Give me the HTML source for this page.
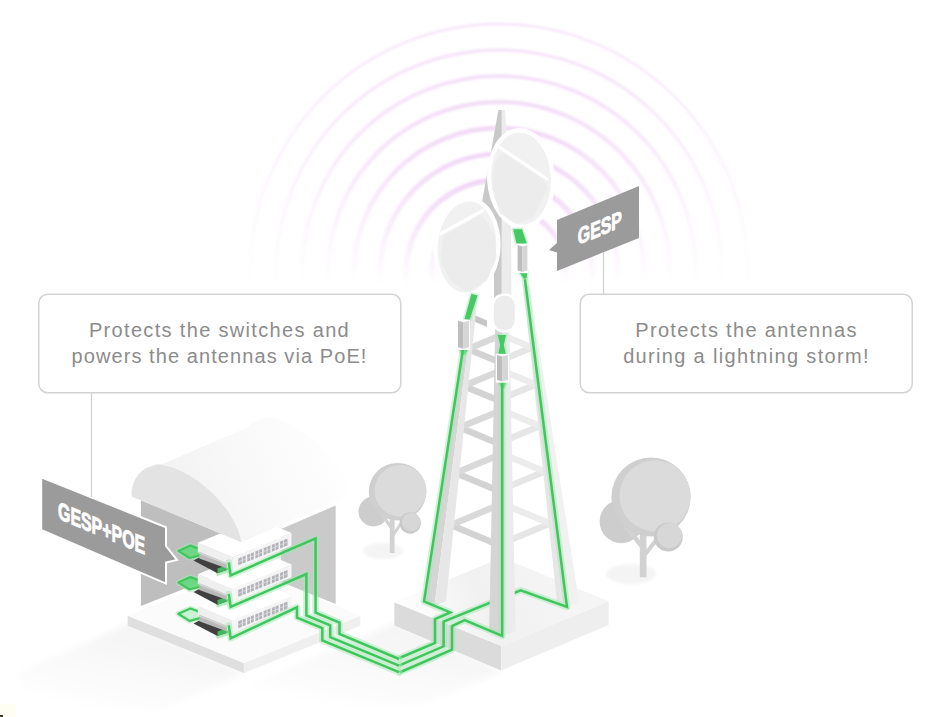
<!DOCTYPE html>
<html><head><meta charset="utf-8"><title>GESP</title>
<style>
html,body{margin:0;padding:0;background:#fff}
#wrap{position:relative;width:944px;height:717px;overflow:hidden;background:#fff}
svg{position:absolute;left:0;top:0}
.box{position:absolute;box-sizing:border-box;border:1px solid transparent;border-radius:9px;background:transparent;
 font-family:"Liberation Sans",sans-serif;font-size:20px;line-height:26px;letter-spacing:1.05px;color:#8c8c8c;text-align:center}
#b1{left:38px;top:294px;width:363px;height:99px;padding-top:22px}
#b2{left:580px;top:294px;width:333px;height:99px;padding-top:22px}
.box span{display:block;white-space:nowrap}
</style></head><body><div id="wrap">
<svg width="944" height="717" viewBox="0 0 944 717">
<defs><clipPath id="arcclip"><rect x="0" y="0" width="944" height="294"/></clipPath><filter id="ablur" x="-5%" y="-5%" width="110%" height="110%"><feGaussianBlur stdDeviation="0.9"/></filter><linearGradient id="ag0" gradientUnits="userSpaceOnUse" x1="0" y1="24.0" x2="0" y2="285.0"><stop offset="0" stop-color="#eac4f1" stop-opacity="0.40"/><stop offset="0.5" stop-color="#eac4f1" stop-opacity="0.20"/><stop offset="0.8" stop-color="#eac4f1" stop-opacity="0.08"/><stop offset="1" stop-color="#eac4f1" stop-opacity="0"/></linearGradient><linearGradient id="ag1" gradientUnits="userSpaceOnUse" x1="0" y1="50.0" x2="0" y2="285.0"><stop offset="0" stop-color="#eac4f1" stop-opacity="0.45"/><stop offset="0.5" stop-color="#eac4f1" stop-opacity="0.23"/><stop offset="0.8" stop-color="#eac4f1" stop-opacity="0.09"/><stop offset="1" stop-color="#eac4f1" stop-opacity="0"/></linearGradient><linearGradient id="ag2" gradientUnits="userSpaceOnUse" x1="0" y1="76.0" x2="0" y2="285.0"><stop offset="0" stop-color="#eac4f1" stop-opacity="0.50"/><stop offset="0.5" stop-color="#eac4f1" stop-opacity="0.25"/><stop offset="0.8" stop-color="#eac4f1" stop-opacity="0.10"/><stop offset="1" stop-color="#eac4f1" stop-opacity="0"/></linearGradient><linearGradient id="ag3" gradientUnits="userSpaceOnUse" x1="0" y1="102.0" x2="0" y2="285.0"><stop offset="0" stop-color="#eac4f1" stop-opacity="0.55"/><stop offset="0.5" stop-color="#eac4f1" stop-opacity="0.28"/><stop offset="0.8" stop-color="#eac4f1" stop-opacity="0.11"/><stop offset="1" stop-color="#eac4f1" stop-opacity="0"/></linearGradient><linearGradient id="ag4" gradientUnits="userSpaceOnUse" x1="0" y1="128.0" x2="0" y2="285.0"><stop offset="0" stop-color="#eac4f1" stop-opacity="0.60"/><stop offset="0.5" stop-color="#eac4f1" stop-opacity="0.30"/><stop offset="0.8" stop-color="#eac4f1" stop-opacity="0.12"/><stop offset="1" stop-color="#eac4f1" stop-opacity="0"/></linearGradient><linearGradient id="ag5" gradientUnits="userSpaceOnUse" x1="0" y1="154.0" x2="0" y2="285.0"><stop offset="0" stop-color="#eac4f1" stop-opacity="0.64"/><stop offset="0.5" stop-color="#eac4f1" stop-opacity="0.32"/><stop offset="0.8" stop-color="#eac4f1" stop-opacity="0.13"/><stop offset="1" stop-color="#eac4f1" stop-opacity="0"/></linearGradient><linearGradient id="ag6" gradientUnits="userSpaceOnUse" x1="0" y1="180.0" x2="0" y2="285.0"><stop offset="0" stop-color="#eac4f1" stop-opacity="0.68"/><stop offset="0.5" stop-color="#eac4f1" stop-opacity="0.34"/><stop offset="0.8" stop-color="#eac4f1" stop-opacity="0.14"/><stop offset="1" stop-color="#eac4f1" stop-opacity="0"/></linearGradient><linearGradient id="ag7" gradientUnits="userSpaceOnUse" x1="0" y1="206.0" x2="0" y2="285.0"><stop offset="0" stop-color="#eac4f1" stop-opacity="0.70"/><stop offset="0.5" stop-color="#eac4f1" stop-opacity="0.35"/><stop offset="0.8" stop-color="#eac4f1" stop-opacity="0.14"/><stop offset="1" stop-color="#eac4f1" stop-opacity="0"/></linearGradient><filter id="sblur" x="-10%" y="-10%" width="120%" height="120%"><feGaussianBlur stdDeviation="3"/></filter><linearGradient id="sh1" gradientUnits="objectBoundingBox" x1="0.8" y1="0" x2="0.25" y2="1"><stop offset="0" stop-color="#f3f3f3"/><stop offset="0.7" stop-color="#fbfbfb"/><stop offset="1" stop-color="#ffffff"/></linearGradient><filter id="tblur" x="-20%" y="-40%" width="140%" height="180%"><feGaussianBlur stdDeviation="1.8"/></filter><linearGradient id="roof" gradientUnits="userSpaceOnUse" x1="170" y1="520" x2="330" y2="450"><stop offset="0" stop-color="#f1f1f1"/><stop offset="0.45" stop-color="#f8f8f8"/><stop offset="1" stop-color="#fefefe"/></linearGradient><linearGradient id="bt" gradientUnits="userSpaceOnUse" x1="430" y1="640" x2="560" y2="575"><stop offset="0" stop-color="#fcfcfc"/><stop offset="0.45" stop-color="#f1f1f1"/><stop offset="1" stop-color="#f5f5f5"/></linearGradient></defs>
<g clip-path="url(#arcclip)" filter="url(#ablur)"><circle cx="499.0" cy="273.0" r="249.0" fill="none" stroke="url(#ag0)" stroke-width="2.8"/><circle cx="499.0" cy="273.0" r="223.0" fill="none" stroke="url(#ag1)" stroke-width="3.3"/><circle cx="499.0" cy="273.0" r="197.0" fill="none" stroke="url(#ag2)" stroke-width="3.9"/><circle cx="499.0" cy="273.0" r="171.0" fill="none" stroke="url(#ag3)" stroke-width="4.5"/><circle cx="499.0" cy="273.0" r="145.0" fill="none" stroke="url(#ag4)" stroke-width="4.9"/><circle cx="499.0" cy="273.0" r="119.0" fill="none" stroke="url(#ag5)" stroke-width="5.2"/><circle cx="499.0" cy="273.0" r="93.0" fill="none" stroke="url(#ag6)" stroke-width="5.5"/><circle cx="499.0" cy="273.0" r="67.0" fill="none" stroke="url(#ag7)" stroke-width="5.5"/></g>
<polygon points="394.4,624.0 501.2,669.0 501.2,672.0 420.0,706.0 250.0,706.0 250.0,684.0" fill="url(#sh1)" filter="url(#sblur)"/>
<polygon points="127.7,624.0 243.9,671.0 243.9,674.0 160.0,710.0 20.0,710.0 20.0,672.0" fill="url(#sh1)" filter="url(#sblur)"/>
<rect x="0" y="704" width="16" height="13" fill="#fefef3"/><rect x="0" y="715" width="3" height="2" fill="#3a3a20"/>
<ellipse cx="383.0" cy="551.0" rx="20.0" ry="8.0" fill="#f4f4f4" filter="url(#tblur)"/>
<circle cx="373.5" cy="511.5" r="15.0" fill="#cdcdcd"/>
<polygon points="389.8,516.0 394.6,516.0 394.6,553.0 389.8,553.0" fill="#d2d2d2" />
<polyline points="392.2,529.0 379.2,510.4" fill="none" stroke="#d2d2d2" stroke-width="3.360000000000008" />
<polyline points="392.2,536.4 402.3,521.5" fill="none" stroke="#d2d2d2" stroke-width="2.8800000000000066" />
<circle cx="397.6" cy="491.7" r="28.8" fill="#cfcfcf"/>
<circle cx="400.5" cy="490.8" r="25.9" fill="#dbdbdb"/>
<circle cx="410.2" cy="523.0" r="10.7" fill="#c9c9c9"/>
<circle cx="411.1" cy="521.9" r="9.2" fill="#d7d7d7"/>
<ellipse cx="631.0" cy="574.0" rx="25.0" ry="10.0" fill="#f4f4f4" filter="url(#tblur)"/>
<circle cx="621.3" cy="521.5" r="21.7" fill="#cdcdcd"/>
<polygon points="639.8,532.0 646.5,532.0 646.5,577.3 639.8,577.3" fill="#d2d2d2" />
<polyline points="643.1,547.9 625.1,525.2" fill="none" stroke="#d2d2d2" stroke-width="4.6900000000000315" />
<polyline points="643.1,556.9 657.2,538.8" fill="none" stroke="#d2d2d2" stroke-width="4.020000000000027" />
<circle cx="651.0" cy="497.0" r="39.6" fill="#cfcfcf"/>
<circle cx="655.0" cy="495.8" r="35.6" fill="#dbdbdb"/>
<circle cx="668.2" cy="537.1" r="14.5" fill="#c9c9c9"/>
<circle cx="669.4" cy="535.6" r="12.5" fill="#d7d7d7"/>
<polygon points="241.0,542.0 283.0,525.0 283.0,600.0 241.0,612.0" fill="#f7f7f7" />
<polygon points="281.0,529.0 335.7,505.4 335.7,604.0 281.0,582.0" fill="#cacaca" />
<polygon points="140.9,499.6 241.4,541.6 241.4,566.0 140.9,606.0" fill="#bebebe" />
<polygon points="127.7,615.8 243.9,663.0 243.9,673.0 127.7,625.8" fill="#dfdfdf" />
<polygon points="243.9,663.0 360.3,615.8 360.3,625.8 243.9,673.0" fill="#efefef" />
<polygon points="127.7,615.8 244.1,568.6 360.3,615.8 243.9,663.0" fill="#fbfbfb" />
<polygon points="178.3,613.8 190.5,608.5 201.0,612.4 201.0,617.9 189.5,620.9" fill="#a5e8b3" fill-opacity="0.5" stroke="#a5e8b3" stroke-width="5.5" stroke-opacity="0.5" stroke-linejoin="round"/>
<polygon points="178.3,613.8 190.5,608.5 201.0,612.4 201.0,617.9 189.5,620.9" fill="#c9f3d2" fill-opacity="0.85" stroke="#3fc65c" stroke-width="2.2" stroke-linejoin="round"/>
<polygon points="215.0,628.9 229.0,625.4 231.0,633.4 217.5,637.9" fill="#a5e8b3" opacity="0.8" stroke="#a5e8b3" stroke-width="2" stroke-linejoin="round"/>
<polygon points="193.5,623.5 199.3,620.5 226.6,628.9 228.0,632.5 217.5,636.1" fill="#404040" />
<polygon points="217.5,631.4 227.0,628.1 228.0,632.5 217.5,636.1" fill="#43c45f" opacity="0.9"/>
<polygon points="197.8,605.6 232.5,620.2 232.5,633.2 197.8,615.1" fill="#efefef" />
<polygon points="199.3,614.7 227.0,626.1 227.0,631.5 199.3,621.3" fill="#bababa" />
<polygon points="199.3,614.7 227.0,626.1 227.0,627.9 199.3,616.7" fill="#d2d2d2" />
<polygon points="232.5,620.2 291.5,595.9 291.5,608.9 232.5,633.2" fill="#f5f5f5" />
<polygon points="197.8,605.6 256.8,581.3 291.5,595.9 232.5,620.2" fill="#ffffff" />
<polygon points="238.2,621.3 287.5,601.5 287.5,608.4 238.2,628.2" fill="#b2b2b8" />
<polyline points="242.3,619.1 242.3,627.0" fill="none" stroke="#f5f5f5" stroke-width="0.8" />
<polyline points="246.4,617.5 246.4,625.4" fill="none" stroke="#f5f5f5" stroke-width="1.5" />
<polyline points="250.5,615.9 250.5,623.8" fill="none" stroke="#f5f5f5" stroke-width="0.8" />
<polyline points="254.6,614.2 254.6,622.1" fill="none" stroke="#f5f5f5" stroke-width="1.5" />
<polyline points="258.7,612.5 258.7,620.4" fill="none" stroke="#f5f5f5" stroke-width="0.8" />
<polyline points="262.9,610.9 262.9,618.8" fill="none" stroke="#f5f5f5" stroke-width="1.5" />
<polyline points="267.0,609.2 267.0,617.1" fill="none" stroke="#f5f5f5" stroke-width="0.8" />
<polyline points="271.1,607.6 271.1,615.5" fill="none" stroke="#f5f5f5" stroke-width="1.5" />
<polyline points="275.2,605.9 275.2,613.8" fill="none" stroke="#f5f5f5" stroke-width="0.8" />
<polyline points="279.3,604.3 279.3,612.2" fill="none" stroke="#f5f5f5" stroke-width="1.5" />
<polyline points="283.4,602.6 283.4,610.5" fill="none" stroke="#f5f5f5" stroke-width="0.8" />
<polyline points="238.2,624.8 287.5,605.0" fill="none" stroke="#e2e2e6" stroke-width="0.7" />
<polygon points="178.3,582.4 190.5,577.1 201.0,581.0 201.0,586.5 189.5,589.5" fill="#a5e8b3" fill-opacity="0.5" stroke="#a5e8b3" stroke-width="5.5" stroke-opacity="0.5" stroke-linejoin="round"/>
<polygon points="178.3,582.4 190.5,577.1 201.0,581.0 201.0,586.5 189.5,589.5" fill="#62d67c" fill-opacity="0.85" stroke="#3fc65c" stroke-width="2.2" stroke-linejoin="round"/>
<polygon points="215.0,597.5 229.0,594.0 231.0,602.0 217.5,606.5" fill="#a5e8b3" opacity="0.8" stroke="#a5e8b3" stroke-width="2" stroke-linejoin="round"/>
<polygon points="193.5,592.1 199.3,589.1 226.6,597.5 228.0,601.1 217.5,604.7" fill="#404040" />
<polygon points="217.5,600.0 227.0,596.7 228.0,601.1 217.5,604.7" fill="#43c45f" opacity="0.9"/>
<polygon points="197.8,574.2 232.5,588.8 232.5,601.8 197.8,583.7" fill="#efefef" />
<polygon points="199.3,583.2 227.0,594.7 227.0,600.1 199.3,589.9" fill="#bababa" />
<polygon points="199.3,583.2 227.0,594.7 227.0,596.5 199.3,585.2" fill="#d2d2d2" />
<polygon points="232.5,588.8 291.5,564.5 291.5,577.5 232.5,601.8" fill="#f5f5f5" />
<polygon points="197.8,574.2 256.8,549.9 291.5,564.5 232.5,588.8" fill="#ffffff" />
<polygon points="238.2,589.9 287.5,570.1 287.5,577.0 238.2,596.8" fill="#b2b2b8" />
<polyline points="242.3,587.7 242.3,595.6" fill="none" stroke="#f5f5f5" stroke-width="0.8" />
<polyline points="246.4,586.1 246.4,594.0" fill="none" stroke="#f5f5f5" stroke-width="1.5" />
<polyline points="250.5,584.4 250.5,592.3" fill="none" stroke="#f5f5f5" stroke-width="0.8" />
<polyline points="254.6,582.8 254.6,590.6" fill="none" stroke="#f5f5f5" stroke-width="1.5" />
<polyline points="258.7,581.1 258.7,589.0" fill="none" stroke="#f5f5f5" stroke-width="0.8" />
<polyline points="262.9,579.5 262.9,587.4" fill="none" stroke="#f5f5f5" stroke-width="1.5" />
<polyline points="267.0,577.8 267.0,585.7" fill="none" stroke="#f5f5f5" stroke-width="0.8" />
<polyline points="271.1,576.2 271.1,584.1" fill="none" stroke="#f5f5f5" stroke-width="1.5" />
<polyline points="275.2,574.5 275.2,582.4" fill="none" stroke="#f5f5f5" stroke-width="0.8" />
<polyline points="279.3,572.9 279.3,580.8" fill="none" stroke="#f5f5f5" stroke-width="1.5" />
<polyline points="283.4,571.2 283.4,579.1" fill="none" stroke="#f5f5f5" stroke-width="0.8" />
<polyline points="238.2,593.3 287.5,573.5" fill="none" stroke="#e2e2e6" stroke-width="0.7" />
<polygon points="178.3,550.9 190.5,545.6 201.0,549.5 201.0,555.0 189.5,558.0" fill="#a5e8b3" fill-opacity="0.5" stroke="#a5e8b3" stroke-width="5.5" stroke-opacity="0.5" stroke-linejoin="round"/>
<polygon points="178.3,550.9 190.5,545.6 201.0,549.5 201.0,555.0 189.5,558.0" fill="#62d67c" fill-opacity="0.85" stroke="#3fc65c" stroke-width="2.2" stroke-linejoin="round"/>
<polygon points="215.0,566.0 229.0,562.5 231.0,570.5 217.5,575.0" fill="#a5e8b3" opacity="0.8" stroke="#a5e8b3" stroke-width="2" stroke-linejoin="round"/>
<polygon points="193.5,560.6 199.3,557.6 226.6,566.0 228.0,569.6 217.5,573.2" fill="#404040" />
<polygon points="217.5,568.5 227.0,565.2 228.0,569.6 217.5,573.2" fill="#43c45f" opacity="0.9"/>
<polygon points="197.8,542.7 232.5,557.3 232.5,570.3 197.8,552.2" fill="#efefef" />
<polygon points="199.3,551.8 227.0,563.2 227.0,568.6 199.3,558.4" fill="#bababa" />
<polygon points="199.3,551.8 227.0,563.2 227.0,565.0 199.3,553.8" fill="#d2d2d2" />
<polygon points="232.5,557.3 291.5,533.0 291.5,546.0 232.5,570.3" fill="#f5f5f5" />
<polygon points="197.8,542.7 256.8,518.4 291.5,533.0 232.5,557.3" fill="#ffffff" />
<polygon points="238.2,558.4 287.5,538.6 287.5,545.5 238.2,565.3" fill="#b2b2b8" />
<polyline points="242.3,556.2 242.3,564.1" fill="none" stroke="#f5f5f5" stroke-width="0.8" />
<polyline points="246.4,554.6 246.4,562.5" fill="none" stroke="#f5f5f5" stroke-width="1.5" />
<polyline points="250.5,553.0 250.5,560.9" fill="none" stroke="#f5f5f5" stroke-width="0.8" />
<polyline points="254.6,551.3 254.6,559.2" fill="none" stroke="#f5f5f5" stroke-width="1.5" />
<polyline points="258.7,549.6 258.7,557.5" fill="none" stroke="#f5f5f5" stroke-width="0.8" />
<polyline points="262.9,548.0 262.9,555.9" fill="none" stroke="#f5f5f5" stroke-width="1.5" />
<polyline points="267.0,546.4 267.0,554.2" fill="none" stroke="#f5f5f5" stroke-width="0.8" />
<polyline points="271.1,544.7 271.1,552.6" fill="none" stroke="#f5f5f5" stroke-width="1.5" />
<polyline points="275.2,543.0 275.2,550.9" fill="none" stroke="#f5f5f5" stroke-width="0.8" />
<polyline points="279.3,541.4 279.3,549.3" fill="none" stroke="#f5f5f5" stroke-width="1.5" />
<polyline points="283.4,539.8 283.4,547.6" fill="none" stroke="#f5f5f5" stroke-width="0.8" />
<polyline points="238.2,561.9 287.5,542.1" fill="none" stroke="#e2e2e6" stroke-width="0.7" />
<g fill="url(#roof)"><path d="M131.7,496.4 C131.8,495.1 131.4,491.5 132.1,488.6 C132.8,485.7 133.7,481.9 135.6,478.8 C137.5,475.7 140.5,472.2 143.4,470.0 C146.3,467.8 150.3,466.6 153.2,465.7 C156.1,464.8 156.8,464.1 161.0,464.8 C165.2,465.5 172.4,467.3 178.6,470.0 C184.8,472.7 192.2,477.1 198.1,481.2 C203.9,485.3 209.1,489.9 213.7,494.4 C218.2,498.9 221.8,503.2 225.4,508.1 C229.0,513.0 232.8,519.0 235.2,523.7 C237.6,528.4 239.1,533.3 240.1,536.4 C241.1,539.5 241.2,541.3 241.4,542.3 Z"/><path d="M240.7,449.4 C240.8,448.1 240.4,444.5 241.1,441.6 C241.8,438.7 242.7,434.9 244.6,431.8 C246.5,428.7 249.5,425.2 252.4,423.0 C255.3,420.8 259.3,419.6 262.2,418.7 C265.1,417.8 265.8,417.1 270.0,417.8 C274.2,418.5 281.4,420.3 287.6,423.0 C293.8,425.7 301.2,430.1 307.1,434.2 C313.0,438.3 318.1,442.9 322.7,447.4 C327.2,451.9 330.8,456.2 334.4,461.1 C338.0,466.0 341.8,472.0 344.2,476.7 C346.6,481.4 348.1,486.3 349.1,489.4 C350.1,492.5 350.2,494.3 350.4,495.3 Z"/>
<polygon points="137.0,475.0 246.0,428.0 350.4,495.3 241.4,542.3 161.0,470.0"/></g>
<path d="M131.7,496.4 C131.8,495.1 131.4,491.5 132.1,488.6 C132.8,485.7 133.7,481.9 135.6,478.8 C137.5,475.7 140.5,472.2 143.4,470.0 C146.3,467.8 150.3,466.6 153.2,465.7 C156.1,464.8 156.8,464.1 161.0,464.8 C165.2,465.5 172.4,467.3 178.6,470.0 C184.8,472.7 192.2,477.1 198.1,481.2 C203.9,485.3 209.1,489.9 213.7,494.4 C218.2,498.9 221.8,503.2 225.4,508.1 C229.0,513.0 232.8,519.0 235.2,523.7 C237.6,528.4 239.1,533.3 240.1,536.4 C241.1,539.5 241.2,541.3 241.4,542.3 Z" fill="#e3e3e3"/>
<polygon points="394.4,602.2 501.2,646.0 501.2,670.5 394.4,625.5" fill="#dbdbdb" />
<polygon points="501.2,646.0 608.7,601.2 608.7,625.0 501.2,670.5" fill="#eeeeee" />
<polygon points="394.4,602.2 501.5,557.5 608.7,601.2 501.2,646.0" fill="url(#bt)" />
<polygon points="498.4,110.0 501.8,110.0 501.8,300.0 494.0,300.0 494.0,262.0 481.5,205.0" fill="#c9c9c9" />
<polygon points="501.8,110.0 505.0,110.0 511.0,200.0 511.5,300.0 501.8,300.0" fill="#ececec" />
<polygon points="467.9,345.5 496.7,357.4 496.7,364.4 467.9,352.5" fill="#d3d3d3" />
<polygon points="467.9,345.5 496.7,333.6 496.7,340.6 467.9,352.5" fill="#d9d9d9" />
<polygon points="463.4,382.5 496.3,396.1 496.3,403.1 463.4,389.5" fill="#d3d3d3" />
<polygon points="463.4,382.5 496.3,368.9 496.3,375.9 463.4,389.5" fill="#d9d9d9" />
<polygon points="459.7,424.0 495.3,438.7 495.3,445.7 459.7,431.0" fill="#d3d3d3" />
<polygon points="459.7,424.0 495.3,409.3 495.3,416.3 459.7,431.0" fill="#d9d9d9" />
<polygon points="455.6,469.5 494.1,485.5 494.1,492.5 455.6,476.5" fill="#d3d3d3" />
<polygon points="455.6,469.5 494.1,453.5 494.1,460.5 455.6,476.5" fill="#d9d9d9" />
<polygon points="450.9,521.5 492.8,538.9 492.8,545.9 450.9,528.5" fill="#d3d3d3" />
<polygon points="450.9,521.5 492.8,504.1 492.8,511.1 450.9,528.5" fill="#d9d9d9" />
<polygon points="532.0,344.0 507.9,354.0 507.9,361.0 532.0,351.0" fill="#e6e6e6" />
<polygon points="532.0,344.0 507.9,334.0 507.9,341.0 532.0,351.0" fill="#ececec" />
<polygon points="535.8,381.0 507.9,392.6 507.9,399.6 535.8,388.0" fill="#e6e6e6" />
<polygon points="535.8,381.0 507.9,369.4 507.9,376.4 535.8,388.0" fill="#ececec" />
<polygon points="540.0,422.5 508.5,435.5 508.5,442.5 540.0,429.5" fill="#e6e6e6" />
<polygon points="540.0,422.5 508.5,409.5 508.5,416.5 540.0,429.5" fill="#ececec" />
<polygon points="544.7,468.0 509.8,482.4 509.8,489.4 544.7,475.0" fill="#e6e6e6" />
<polygon points="544.7,468.0 509.8,453.6 509.8,460.6 544.7,475.0" fill="#ececec" />
<polygon points="550.0,520.0 511.4,536.0 511.4,543.0 550.0,527.0" fill="#e6e6e6" />
<polygon points="550.0,520.0 511.4,504.0 511.4,511.0 550.0,527.0" fill="#ececec" />
<polygon points="473.0,314.5 487.0,320.5 487.0,327.0 473.0,321.0" fill="#c6c6c6" />
<polygon points="470.2,296.0 474.7,296.0 434.4,605.4 424.0,601.4" fill="#d5d5d5" />
<polygon points="474.7,296.0 477.7,296.0 446.0,601.4 434.4,605.4" fill="#e7e7e7" />
<polygon points="523.3,285.0 526.3,285.0 567.0,607.0 557.1,603.0" fill="#e6e6e6" />
<polygon points="526.3,285.0 529.3,285.0 579.1,602.5 567.0,607.0" fill="#f1f1f1" />
<polyline points="524.0,272.0 567.0,607.0 520.7,590.3 443.6,621.7 443.6,646.3 399.5,665.3" fill="none" stroke="#a5e8b3" stroke-width="6.5" stroke-opacity="0.5" stroke-linejoin="round" stroke-linecap="round"/>
<polyline points="524.0,272.0 567.0,607.0 520.7,590.3 443.6,621.7 443.6,646.3 399.5,665.3" fill="none" stroke="#3fc65c" stroke-width="2.5" stroke-linejoin="miter" stroke-linecap="butt"/>
<polygon points="495.7,300.0 502.2,300.0 502.2,636.0 489.2,631.0" fill="#d5d5d5" />
<polygon points="502.2,300.0 508.9,300.0 515.5,631.0 502.2,636.0" fill="#ebebeb" />
<rect x="491.5" y="293.5" width="26.5" height="39" rx="12" fill="#ffffff"/>
<rect x="493.8" y="295.8" width="21" height="34.5" rx="10" fill="#ececec"/>
<ellipse cx="467.0" cy="247.0" rx="33.5" ry="50.0" transform="rotate(4.0 467.0 247.0)" fill="#ffffff"/>
<ellipse cx="467.0" cy="247.0" rx="29.3" ry="45.6" transform="rotate(4.0 467.0 247.0)" fill="#f1f1f1"/>
<polygon points="447.0,238.0 480.0,219.0 491.0,236.0 493.0,257.0 484.0,278.0 467.0,288.0 453.0,278.0 444.0,260.0" fill="#ececec" stroke="#ececec" stroke-width="7" stroke-linejoin="round"/>
<polyline points="441.0,233.5 483.0,210.5" fill="none" stroke="#ffffff" stroke-width="3.2" stroke-linecap="round"/>
<ellipse cx="521.0" cy="178.5" rx="34.0" ry="50.5" transform="rotate(-3.0 521.0 178.5)" fill="#ffffff"/>
<ellipse cx="521.0" cy="178.5" rx="29.8" ry="46.1" transform="rotate(-3.0 521.0 178.5)" fill="#f1f1f1"/>
<polygon points="503.0,157.0 541.0,182.0 544.0,189.0 531.0,214.0 517.0,220.0 503.0,211.0 496.0,187.0 498.0,164.0" fill="#ececec" stroke="#ececec" stroke-width="7" stroke-linejoin="round"/>
<polyline points="500.0,147.5 547.0,179.0" fill="none" stroke="#ffffff" stroke-width="3.2" stroke-linecap="round"/>
<polygon points="471.5,294.0 477.5,295.5 469.5,320.0 464.5,319.0" fill="#a5e8b3" fill-opacity="0.7" stroke="#a5e8b3" stroke-width="3.5" stroke-opacity="0.5" stroke-linejoin="round"/>
<polygon points="471.5,294.0 477.5,295.5 469.5,320.0 464.5,319.0" fill="#45c962" />
<polygon points="497.8,335.0 506.0,335.0 503.8,345.0 506.0,355.0 498.0,355.0 500.2,345.0" fill="#a5e8b3" fill-opacity="0.7" stroke="#a5e8b3" stroke-width="3.5" stroke-opacity="0.5" stroke-linejoin="round"/>
<polygon points="497.8,335.0 506.0,335.0 503.8,345.0 506.0,355.0 498.0,355.0 500.2,345.0" fill="#45c962" />
<polygon points="513.2,229.3 522.0,229.3 526.8,243.5 516.5,243.5" fill="#a5e8b3" fill-opacity="0.7" stroke="#a5e8b3" stroke-width="3.5" stroke-opacity="0.5" stroke-linejoin="round"/>
<polygon points="513.2,229.3 522.0,229.3 526.8,243.5 516.5,243.5" fill="#45c962" />
<polygon points="459.5,349.0 468.0,349.0 464.5,355.0 461.5,355.0" fill="#a5e8b3" fill-opacity="0.7" stroke="#a5e8b3" stroke-width="3.5" stroke-opacity="0.5" stroke-linejoin="round"/>
<polygon points="459.5,349.0 468.0,349.0 464.5,355.0 461.5,355.0" fill="#45c962" />
<polygon points="498.5,381.5 506.5,381.5 504.0,388.0 501.0,388.0" fill="#a5e8b3" fill-opacity="0.7" stroke="#a5e8b3" stroke-width="3.5" stroke-opacity="0.5" stroke-linejoin="round"/>
<polygon points="498.5,381.5 506.5,381.5 504.0,388.0 501.0,388.0" fill="#45c962" />
<polygon points="518.5,271.5 527.5,271.5 526.5,278.0 523.5,278.0" fill="#a5e8b3" fill-opacity="0.7" stroke="#a5e8b3" stroke-width="3.5" stroke-opacity="0.5" stroke-linejoin="round"/>
<polygon points="518.5,271.5 527.5,271.5 526.5,278.0 523.5,278.0" fill="#45c962" />
<polyline points="463.0,349.0 424.0,601.4 450.3,612.4 435.0,619.0 435.0,643.0 399.5,658.0" fill="none" stroke="#a5e8b3" stroke-width="6.5" stroke-opacity="0.5" stroke-linejoin="round" stroke-linecap="round"/>
<polyline points="463.0,349.0 424.0,601.4 450.3,612.4 435.0,619.0 435.0,643.0 399.5,658.0" fill="none" stroke="#3fc65c" stroke-width="2.5" stroke-linejoin="miter" stroke-linecap="butt"/>
<polyline points="502.2,382.0 502.2,635.8 464.7,620.0 452.0,626.0 452.0,649.7 399.5,672.5" fill="none" stroke="#a5e8b3" stroke-width="6.5" stroke-opacity="0.5" stroke-linejoin="round" stroke-linecap="round"/>
<polyline points="502.2,382.0 502.2,635.8 464.7,620.0 452.0,626.0 452.0,649.7 399.5,672.5" fill="none" stroke="#3fc65c" stroke-width="2.5" stroke-linejoin="miter" stroke-linecap="butt"/>
<rect x="456.8" y="319.6" width="13.4" height="30.4" fill="#ffffff"/>
<polygon points="458.0,320.8 463.5,322.3 463.5,348.8 458.0,347.3" fill="#bdbdbd" />
<polygon points="463.5,322.3 469.0,320.8 469.0,347.3 463.5,348.8" fill="#d6d6d6" />
<rect x="495.8" y="353.8" width="13.4" height="28.9" fill="#ffffff"/>
<polygon points="497.0,355.0 502.5,356.5 502.5,381.5 497.0,380.0" fill="#bdbdbd" />
<polygon points="502.5,356.5 508.0,355.0 508.0,380.0 502.5,381.5" fill="#d6d6d6" />
<rect x="516.4" y="243.8" width="12.2" height="29.4" fill="#ffffff"/>
<polygon points="517.6,245.0 522.5,246.5 522.5,272.0 517.6,270.5" fill="#bdbdbd" />
<polygon points="522.5,246.5 527.4,245.0 527.4,270.5 522.5,272.0" fill="#d6d6d6" />
<polyline points="228.8,562.5 230.6,575.4 315.6,538.4 315.6,612.6 339.5,622.5 339.5,633.8 399.0,659.0" fill="none" stroke="#a5e8b3" stroke-width="6.5" stroke-opacity="0.5" stroke-linejoin="round" stroke-linecap="round"/>
<polyline points="228.8,562.5 230.6,575.4 315.6,538.4 315.6,612.6 339.5,622.5 339.5,633.8 399.0,659.0" fill="none" stroke="#3fc65c" stroke-width="2.5" stroke-linejoin="miter" stroke-linecap="butt"/>
<polyline points="228.8,594.0 230.6,606.9 306.4,574.0 306.4,615.4 330.2,625.3 330.2,637.2 399.0,665.6" fill="none" stroke="#a5e8b3" stroke-width="6.5" stroke-opacity="0.5" stroke-linejoin="round" stroke-linecap="round"/>
<polyline points="228.8,594.0 230.6,606.9 306.4,574.0 306.4,615.4 330.2,625.3 330.2,637.2 399.0,665.6" fill="none" stroke="#3fc65c" stroke-width="2.5" stroke-linejoin="miter" stroke-linecap="butt"/>
<polyline points="228.8,625.4 230.6,638.3 297.0,607.3 297.0,617.6 322.3,628.1 322.3,640.4 399.0,672.2" fill="none" stroke="#a5e8b3" stroke-width="6.5" stroke-opacity="0.5" stroke-linejoin="round" stroke-linecap="round"/>
<polyline points="228.8,625.4 230.6,638.3 297.0,607.3 297.0,617.6 322.3,628.1 322.3,640.4 399.0,672.2" fill="none" stroke="#3fc65c" stroke-width="2.5" stroke-linejoin="miter" stroke-linecap="butt"/>
<rect x="38.75" y="294.25" width="362" height="98.5" rx="9" fill="#ffffff" stroke="#d3d3d3" stroke-width="1.5"/>
<rect x="580.25" y="294.25" width="332" height="98.5" rx="9" fill="#ffffff" stroke="#d3d3d3" stroke-width="1.5"/>
<polygon points="557.0,220.0 639.0,186.0 639.0,238.0 557.0,271.0 557.0,252.5 549.0,250.0 557.0,243.0" fill="#9b9b9b" />
<text transform="matrix(0.685,-0.2837,0,1,577.8,245.0)" font-family="'Liberation Sans', sans-serif" font-weight="700" font-size="23.2" fill="#ffffff" stroke="#ffffff" stroke-width="0.9">GESP</text>
<path d="M603.5,252 V294" stroke="#d3d3d3" stroke-width="1.3"/>
<polygon points="41.2,477.2 166.0,527.3 166.0,546.0 177.0,560.0 166.0,562.6 166.0,583.6 41.2,530.0" fill="#9b9b9b" stroke="#ffffff" stroke-width="2" stroke-linejoin="miter"/>
<text transform="matrix(0.65,0.269,0,1,58,518.6)" font-family="'Liberation Sans', sans-serif" font-weight="700" font-size="24.5" fill="#ffffff" stroke="#ffffff" stroke-width="0.9">GESP+POE</text>
<path d="M91.5,393 V497" stroke="#d3d3d3" stroke-width="1.3"/>
</svg>
<div class="box" id="b1"><span style="letter-spacing:1.33px">Protects the switches and</span><span style="letter-spacing:1.08px">powers the antennas via PoE!</span></div>
<div class="box" id="b2"><span style="letter-spacing:1.33px">Protects the antennas</span><span style="letter-spacing:1.33px">during a lightning storm!</span></div>
</div></body></html>
